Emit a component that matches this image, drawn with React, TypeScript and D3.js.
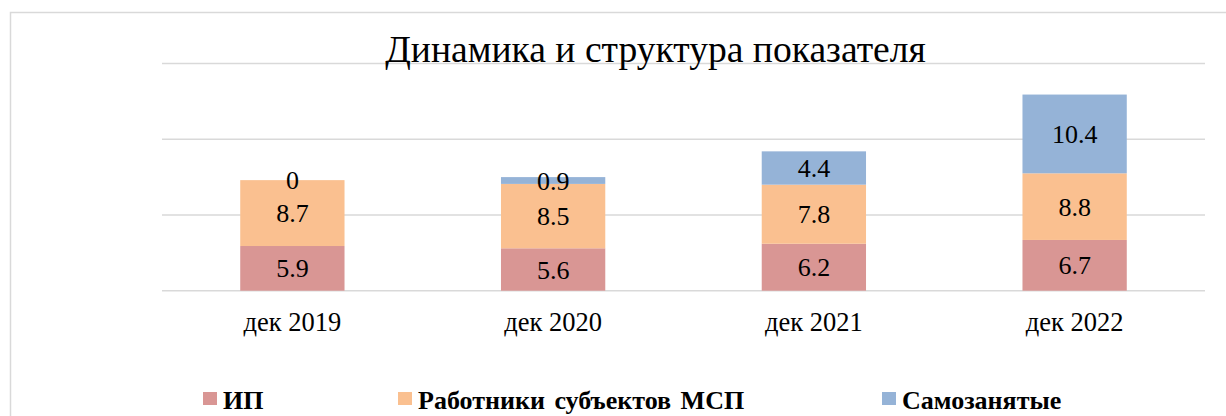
import React from "react";
import * as d3 from "d3";

const categories = ["дек 2019", "дек 2020", "дек 2021", "дек 2022"];
const seriesNames = ["ИП", "Работники субъектов МСП", "Самозанятые"];
const ipValues = [5.9, 5.6, 6.2, 6.7];
const mspValues = [8.7, 8.5, 7.8, 8.8];
const selfValues = [0, 0.9, 4.4, 10.4];
const yTicks = [0, 10, 20, 30];
const colors = ["#D99694", "#FAC090", "#95B3D7"];
const title = "Динамика и структура показателя";

const W = 1226;
const H = 416;
const FONT = "'Liberation Serif', 'Times New Roman', serif";

export default function App() {
  const plotLeft = 162;
  const plotRight = 1205;
  const x = d3.scaleBand<string>().domain(categories).range([plotLeft, plotRight]).paddingInner(0.6).paddingOuter(0.3);
  const y = d3.scaleLinear().domain([0, 30]).range([290.7, 63.5]);

  const table = categories.map((c, i) => ({ cat: c, s0: ipValues[i], s1: mspValues[i], s2: selfValues[i] }));
  const stack = d3.stack<any>().keys(["s0", "s1", "s2"]);
  const layers = stack(table);

  const legendX = [203, 398, 882];

  return (
    <svg width={W} height={H} style={{ position: "absolute", left: 0, top: 0, display: "block" }} fontFamily={FONT}>
      <rect x={0} y={0} width={W} height={H} fill="#fff" />
      <rect x={10.5} y={12.5} width={W + 20} height={H + 20} fill="none" stroke="#d9d9d9" strokeWidth={1.5} />
      {yTicks.map((t) => (
        <line key={t} x1={plotLeft} x2={plotRight} y1={y(t)} y2={y(t)} stroke="#d9d9d9" strokeWidth={1.5} />
      ))}
      <text x={655.5} y={62} textAnchor="middle" fontSize={37.6} fill="#000">{title}</text>
      {layers.map((layer, li) => (
        <g key={li}>
          {layer.map((d, i) => (
            <rect key={i} x={x(categories[i])} width={x.bandwidth()} y={y(d[1])} height={Math.max(0, y(d[0]) - y(d[1]))}
              fill={colors[li]} />
          ))}
        </g>
      ))}
      {layers.map((layer, li) => (
        <g key={"l" + li}>
          {layer.map((d, i) => (
            <text key={i} x={(x(categories[i]) as number) + x.bandwidth() / 2} y={(y(d[0]) + y(d[1])) / 2}
              dy="0.35em" textAnchor="middle" fontSize={26} fill="#000">{String(d[1] - d[0] === 0 ? 0 : +(d[1] - d[0]).toFixed(1))}</text>
          ))}
        </g>
      ))}
      {categories.map((c) => (
        <text key={c} x={(x(c) as number) + x.bandwidth() / 2} y={331} textAnchor="middle" fontSize={26.5} fill="#000">{c}</text>
      ))}
      {seriesNames.map((s, i) => (
        <g key={s}>
          <rect x={legendX[i]} y={392} width={14} height={13} fill={colors[i]} />
          <text x={legendX[i] + 20} y={409} fontSize={26} fontWeight="bold" wordSpacing={3} fill="#000">{s}</text>
        </g>
      ))}
    </svg>
  );
}
